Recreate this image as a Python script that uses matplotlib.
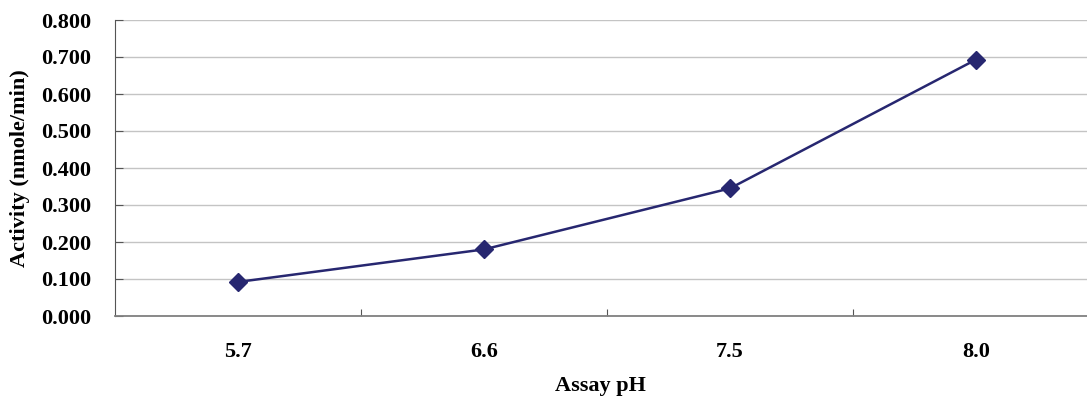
import matplotlib
matplotlib.use("Agg")
import matplotlib.pyplot as plt
from matplotlib.ticker import FormatStrFormatter

# assay pH values (categorical) and measured activity
ph_labels = ["5.7", "6.6", "7.5", "8.0"]
activity = [0.092, 0.180, 0.345, 0.693]

plt.rcParams['font.family'] = ['Liberation Serif', 'DejaVu Serif']
plt.rcParams['font.weight'] = 'bold'

W, H = 1087, 397
fig = plt.figure(figsize=(W / 100, H / 100), dpi=100)
# plot area runs slightly past the right edge of the picture
ax = fig.add_axes([115 / W, 1 - 316 / H, (1099 - 115) / W, (316 - 20) / H])

x = list(range(len(ph_labels)))
ax.plot(x, activity, color='#272770', lw=1.8, marker='D', markersize=9,
        markerfacecolor='#272770', markeredgecolor='#272770', zorder=3)

ax.set_xlim(-0.5, len(ph_labels) - 0.5)
ax.set_ylim(0, 0.8)
ax.set_yticks([i / 10 for i in range(9)])
ax.yaxis.set_major_formatter(FormatStrFormatter('%.3f'))
ax.grid(axis='y', color='#c4c4c4', lw=1.0)
ax.set_axisbelow(True)

# category labels centred, tick marks on the boundaries
ax.set_xticks([i + 0.5 for i in range(len(ph_labels) - 1)])
ax.set_xticklabels([])
ax.set_xticks(x, minor=True)
ax.set_xticklabels(ph_labels, minor=True)
ax.tick_params(axis='x', which='major', direction='in', length=5, color='#555555')
ax.tick_params(axis='x', which='minor', length=0, pad=19, labelsize=16)
ax.tick_params(axis='y', direction='in', length=6, color='#555555', labelsize=16, pad=17)

for s in ['top', 'right']:
    ax.spines[s].set_visible(False)
ax.spines['left'].set_color('#555555')
ax.spines['bottom'].set_color('#808080')
ax.spines['bottom'].set_linewidth(1.3)

fig.text(20 / W, 1 - 168 / H, "Activity (nmole/min)", rotation=90, ha='center',
         va='center', fontsize=16, fontweight='bold')
fig.text(600 / W, 1 - 386 / H, "Assay pH", ha='center', va='center',
         fontsize=16, fontweight='bold')

fig.savefig("out.png", dpi=100)
